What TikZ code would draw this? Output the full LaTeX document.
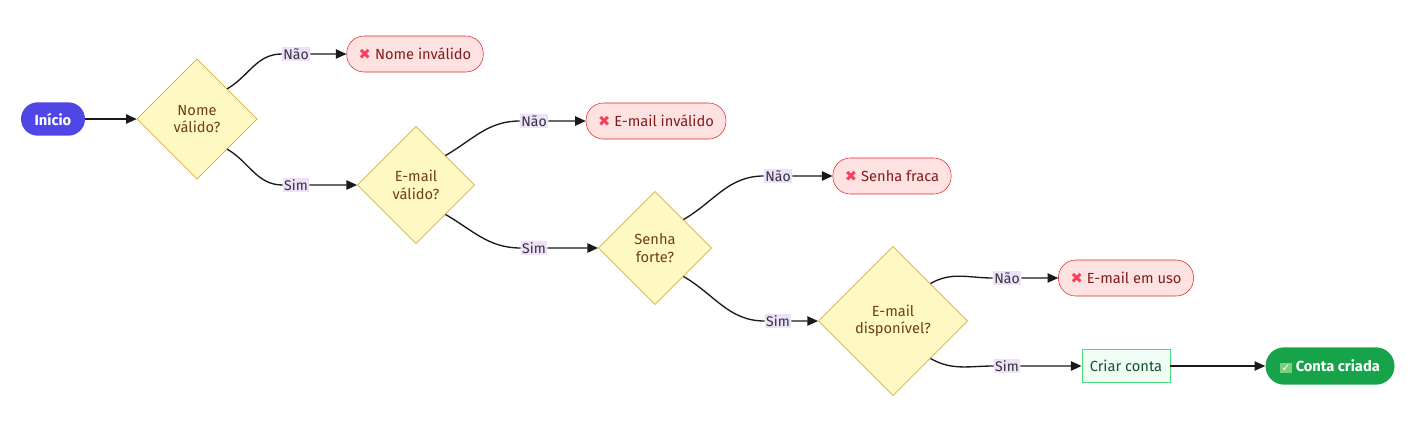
\documentclass[tikz,border=0pt]{standalone}
\usepackage{fontspec}
\setmainfont{Fira Sans}
\newfontfamily\symfont{DejaVu Sans}
\usetikzlibrary{positioning, arrows.meta, shapes.geometric}

\definecolor{startc}{HTML}{4F46E5}
\definecolor{decfill}{HTML}{FEF9C3}
\definecolor{decdraw}{HTML}{CA9A20}
\definecolor{dectext}{HTML}{713F12}
\definecolor{failfill}{HTML}{FEE2E2}
\definecolor{faildraw}{HTML}{DC2626}
\definecolor{failtext}{HTML}{7F1D1D}
\definecolor{crossc}{HTML}{F43F5E}
\definecolor{okfill}{HTML}{F0FDF4}
\definecolor{okdraw}{HTML}{4ADE80}
\definecolor{oktext}{HTML}{14532D}
\definecolor{endc}{HTML}{16A34A}
\definecolor{lblfill}{HTML}{EDE0FB}

\newcommand{\xmark}{{\symfont\textcolor{crossc}{✖}}\hspace{3pt}}
\newcommand{\okmark}{{\fboxsep=1pt\colorbox{green!45!gray!70}{\symfont\footnotesize\color{white}✓}}\hspace{3pt}}

\begin{document}
\begin{tikzpicture}[x=0.75pt, y=-0.75pt,
	startnode/.style={rounded corners=12.5pt, fill=startc, text=white, font=\fontsize{11}{13}\selectfont\bfseries, minimum width=48pt, minimum height=25pt, inner sep=2pt},
	decision/.style={diamond, draw=decdraw, fill=decfill, text=dectext, align=center, font=\fontsize{11}{13}\selectfont, inner sep=0pt, minimum width=#1, minimum height=#1},
	fail/.style={rounded corners=13pt, draw=faildraw, fill=failfill, text=failtext, font=\fontsize{11}{13}\selectfont, minimum height=27pt, inner xsep=9pt},
	action/.style={rectangle, draw=okdraw, fill=okfill, text=oktext, font=\fontsize{11}{13}\selectfont, minimum height=25pt, inner xsep=6pt},
	endnode/.style={rounded corners=14pt, fill=endc, text=white, font=\fontsize{11}{13}\selectfont\bfseries, minimum height=28pt, inner xsep=11pt},
	edgelbl/.style={fill=lblfill, inner sep=1pt, font=\fontsize{10.5}{12}\selectfont, text=black!80},
	>={Triangle[length=8pt, width=7pt]},
	line/.style={line width=1pt, black!90}
]
\useasboundingbox (0,0) rectangle (1428,432);

\node[startnode] (inicio) at (53,119) {Início};

\node[decision=90pt] (nome) at (197,119) {Nome\\válido?};
\node[decision=88pt] (email) at (416,185) {E-mail\\válido?};
\node[decision=85pt] (senha) at (655,248) {Senha\\forte?};
\node[decision=112pt] (disp) at (893,321) {E-mail\\disponível?};

\node[fail] (failnome) at (415,54) {\xmark Nome inválido};
\node[fail] (failemail) at (656,121) {\xmark E-mail inválido};
\node[fail] (failsenha) at (892,176) {\xmark Senha fraca};
\node[fail] (faildisp) at (1126,278) {\xmark E-mail em uso};

\node[action] (criar) at (1126,366) {Criar conta};
\node[endnode] (fim) at (1330,366) {\okmark Conta criada};

\node[edgelbl] (nao1) at (296,54) {Não};
\node[edgelbl] (sim1) at (296,185) {Sim};
\node[edgelbl] (nao2) at (534,121) {Não};
\node[edgelbl] (sim2) at (534,248) {Sim};
\node[edgelbl] (nao3) at (778,176) {Não};
\node[edgelbl] (sim3) at (778,321) {Sim};
\node[edgelbl] (nao4) at (1007,278) {Não};
\node[edgelbl] (sim4) at (1007,366) {Sim};

\foreach \i/\j in {inicio/nome, criar/fim}
	\draw[line, ->] (\i) -- (\j);

\foreach \d/\l/\f in {nome/nao1/failnome, email/nao2/failemail, senha/nao3/failsenha, disp/nao4/faildisp}
	\draw[line, ->] (\d.north east) to[out=30, in=180] (\l.west) (\l.east) -- (\f);

\foreach \d/\l/\f in {nome/sim1/email, email/sim2/senha, senha/sim3/disp, disp/sim4/criar}
	\draw[line, ->] (\d.south east) to[out=-30, in=180] (\l.west) (\l.east) to[out=0, in=180] (\f.west);

\end{tikzpicture}
\end{document}
